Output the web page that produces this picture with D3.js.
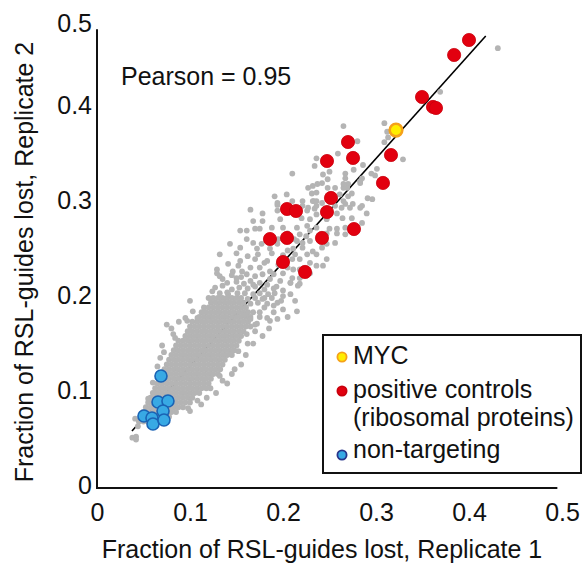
<!DOCTYPE html>
<html><head><meta charset="utf-8">
<script src="https://cdn.jsdelivr.net/npm/d3@7"></script>
<style>body{margin:0;background:#fff}svg{display:block;font-family:"Liberation Sans",Arial,sans-serif}</style>
</head><body><svg id="c" width="583" height="567"></svg>
<script>
// ---- data ----
const xTicks = [0, 0.1, 0.2, 0.3, 0.4, 0.5];
const yTicks = [0, 0.1, 0.2, 0.3, 0.4, 0.5];
const xTitle = "Fraction of RSL-guides lost, Replicate 1";
const yTitle = "Fraction of RSL-guides lost, Replicate 2";
const pearsonLabel = "Pearson = 0.95";
const fitSlope = 1.093, fitIntercept = 0.0189, fitRange = [0.0376, 0.418];

const legendLabels = ["MYC", "positive controls", "(ribosomal proteins)", "non-targeting"];

const myc = [[0.3215, 0.3768]];
const positiveControls = [
 [0.400,0.4716],[0.384,0.4558],[0.3495,0.4116],[0.3613,0.4011],[0.3645,0.400],
 [0.2699,0.3642],[0.2753,0.3474],[0.2473,0.3442],[0.3161,0.3505],[0.3075,0.3211],
 [0.2516,0.3053],[0.2043,0.2937],[0.2140,0.2916],[0.2473,0.2905],[0.1860,0.2621],
 [0.2043,0.2632],[0.2419,0.2632],[0.2763,0.2726],[0.2000,0.2379],[0.2237,0.2274]
];
const nonTargeting = [
 [0.0688,0.1179],[0.0656,0.0905],[0.0763,0.0916],[0.0710,0.0811],
 [0.0505,0.0758],[0.0591,0.0737],[0.0602,0.0674],[0.0720,0.0716]
];

// dense core of all guides: rows of [replicate2, [replicate1 values]]
const coreRows = [
 [0.200,[0.125,0.130,0.135,0.140,0.145,0.150]],
 [0.195,[0.1225,0.1275,0.1325,0.1375,0.1425,0.1475,0.1525,0.1575]],
 [0.190,[0.115,0.120,0.125,0.130,0.135,0.140,0.145,0.150,0.155,0.160]],
 [0.185,[0.1125,0.1175,0.1225,0.1275,0.1325,0.1375,0.1425,0.1475,0.1525,0.1575,0.1625]],
 [0.180,[0.110,0.115,0.120,0.125,0.130,0.135,0.140,0.145,0.150,0.155,0.160,0.165]],
 [0.175,[0.1025,0.1075,0.1125,0.1175,0.1225,0.1275,0.1325,0.1375,0.1425,0.1475,0.1525,0.1575,0.1625]],
 [0.170,[0.100,0.105,0.110,0.115,0.120,0.125,0.130,0.135,0.140,0.145,0.150,0.155,0.160]],
 [0.165,[0.0975,0.1025,0.1075,0.1125,0.1175,0.1225,0.1275,0.1325,0.1375,0.1425,0.1475,0.1525,0.1575]],
 [0.160,[0.095,0.100,0.105,0.110,0.115,0.120,0.125,0.130,0.135,0.140,0.145,0.150,0.155]],
 [0.155,[0.0875,0.0925,0.0975,0.1025,0.1075,0.1125,0.1175,0.1225,0.1275,0.1325,0.1375,0.1425,0.1475,0.1525]],
 [0.150,[0.085,0.090,0.095,0.100,0.105,0.110,0.115,0.120,0.125,0.130,0.135,0.140,0.145,0.150]],
 [0.145,[0.0825,0.0875,0.0925,0.0975,0.1025,0.1075,0.1125,0.1175,0.1225,0.1275,0.1325,0.1375,0.1425,0.1475]],
 [0.140,[0.080,0.085,0.090,0.095,0.100,0.105,0.110,0.115,0.120,0.125,0.130,0.135,0.140,0.145]],
 [0.135,[0.0775,0.0825,0.0875,0.0925,0.0975,0.1025,0.1075,0.1125,0.1175,0.1225,0.1275,0.1325,0.1375]],
 [0.130,[0.075,0.080,0.085,0.090,0.095,0.100,0.105,0.110,0.115,0.120,0.125,0.130,0.135]],
 [0.125,[0.0725,0.0775,0.0825,0.0875,0.0925,0.0975,0.1025,0.1075,0.1125,0.1175,0.1225,0.1275,0.1325]],
 [0.120,[0.070,0.075,0.080,0.085,0.090,0.095,0.100,0.105,0.110,0.115,0.120,0.125,0.130]],
 [0.115,[0.0675,0.0725,0.0775,0.0825,0.0875,0.0925,0.0975,0.1025,0.1075,0.1125,0.1175,0.1225]],
 [0.110,[0.065,0.070,0.075,0.080,0.085,0.090,0.095,0.100,0.105,0.110,0.115,0.120]],
 [0.105,[0.0625,0.0675,0.0725,0.0775,0.0825,0.0875,0.0925,0.0975,0.1025,0.1075,0.1125,0.1175]],
 [0.100,[0.060,0.065,0.070,0.075,0.080,0.085,0.090,0.095,0.100,0.105,0.110]],
 [0.095,[0.0575,0.0625,0.0675,0.0725,0.0775,0.0825,0.0875,0.0925,0.0975,0.1025]],
 [0.090,[0.055,0.060,0.065,0.070,0.075,0.080,0.085,0.090,0.095,0.100]],
 [0.085,[0.0525,0.0575,0.0625,0.0675,0.0725,0.0775,0.0825,0.0875,0.0925]],
 [0.080,[0.050,0.055,0.060,0.065,0.070,0.075,0.080,0.085]],
 [0.075,[0.0475,0.0525,0.0575,0.0625,0.0675,0.0725,0.0775]],
 [0.070,[0.045,0.050,0.055,0.060,0.065]]
];

// scattered guides outside the core: [replicate1, replicate2]
const scatterGuides = [
 [0.431,0.463],[0.369,0.417],[0.367,0.403],[0.309,0.384],[0.312,0.375],[0.313,0.369],[0.309,0.364],
 [0.265,0.381],[0.280,0.365],[0.259,0.352],[0.236,0.347],[0.234,0.339],[0.250,0.333],[0.248,0.325],
 [0.243,0.330],[0.210,0.331],[0.267,0.331],[0.267,0.326],[0.270,0.320],[0.265,0.316],[0.283,0.323],
 [0.295,0.331],[0.301,0.336],[0.299,0.329],[0.329,0.346],[0.256,0.316],[0.237,0.320],[0.232,0.318],
 [0.231,0.310],[0.233,0.302],[0.242,0.300],[0.191,0.307],[0.204,0.309],[0.194,0.298],[0.210,0.302],
 [0.221,0.297],[0.261,0.309],[0.270,0.307],[0.275,0.299],[0.267,0.299],[0.272,0.295],[0.296,0.304],
 [0.290,0.289],[0.178,0.289],[0.194,0.292],[0.226,0.292],[0.234,0.294],[0.263,0.295],[0.283,0.295],
 [0.291,0.305],[0.285,0.326],[0.283,0.321],[0.286,0.340],[0.276,0.335],[0.265,0.320],[0.242,0.321],
 [0.227,0.316],[0.248,0.316],[0.269,0.316],[0.236,0.311],[0.274,0.310],[0.232,0.302],[0.265,0.302],
 [0.221,0.302],[0.236,0.302],[0.194,0.300],[0.165,0.293],[0.227,0.295],[0.236,0.297],[0.256,0.297],
 [0.285,0.297],[0.236,0.288],[0.258,0.289],[0.264,0.284],[0.247,0.283],[0.229,0.283],[0.220,0.284],
 [0.168,0.281],[0.178,0.281],[0.197,0.283],[0.274,0.284],[0.285,0.279],[0.170,0.273],[0.175,0.273],
 [0.188,0.274],[0.200,0.274],[0.215,0.274],[0.226,0.276],[0.236,0.274],[0.250,0.273],[0.258,0.273],
 [0.267,0.274],[0.154,0.271],[0.161,0.271],[0.218,0.267],[0.229,0.271],[0.247,0.268],[0.258,0.268],
 [0.267,0.267],[0.143,0.257],[0.161,0.262],[0.168,0.258],[0.177,0.257],[0.194,0.257],[0.215,0.260],
 [0.221,0.258],[0.229,0.260],[0.247,0.257],[0.256,0.258],[0.154,0.253],[0.172,0.252],[0.186,0.252],
 [0.211,0.252],[0.221,0.253],[0.232,0.249],[0.242,0.253],[0.132,0.246],[0.150,0.247],[0.162,0.244],
 [0.173,0.246],[0.188,0.247],[0.213,0.246],[0.226,0.246],[0.236,0.246],[0.247,0.241],[0.154,0.239],
 [0.170,0.241],[0.183,0.239],[0.210,0.241],[0.218,0.241],[0.229,0.237],[0.236,0.234],[0.243,0.234],
 [0.129,0.230],[0.141,0.236],[0.152,0.234],[0.165,0.232],[0.175,0.232],[0.186,0.228],[0.211,0.230],
 [0.218,0.230],[0.229,0.226],[0.161,0.225],[0.170,0.223],[0.178,0.225],[0.210,0.221],[0.218,0.221],
 [0.135,0.220],[0.150,0.221],[0.165,0.218],[0.175,0.216],[0.186,0.220],[0.197,0.218],[0.208,0.216],
 [0.218,0.215],[0.129,0.226],[0.132,0.223],[0.146,0.228],[0.156,0.228],
 [0.135,0.213],[0.127,0.211],[0.124,0.207],[0.132,0.205],[0.141,0.204],[0.151,0.205],[0.159,0.205],
 [0.168,0.204],[0.175,0.205],[0.184,0.204],[0.191,0.205],[0.200,0.202],[0.208,0.204],[0.216,0.213],
 [0.208,0.216],[0.194,0.195],[0.183,0.194],[0.173,0.195],[0.165,0.194],[0.103,0.186],[0.100,0.197],
 [0.108,0.179],[0.097,0.176],[0.095,0.179],[0.183,0.179],[0.186,0.176],[0.194,0.178],[0.172,0.173],
 [0.215,0.186],[0.213,0.197],
 [0.161,0.162],[0.162,0.152],[0.152,0.144],[0.143,0.141],[0.135,0.113],[0.132,0.118],[0.122,0.105],
 [0.108,0.092],[0.098,0.084],[0.100,0.081],[0.082,0.162],[0.084,0.158],[0.068,0.137],[0.065,0.128],
 [0.060,0.111],[0.055,0.094],[0.041,0.073],[0.044,0.065],[0.038,0.053],[0.042,0.054],[0.042,0.051],
 [0.075,0.172],[0.080,0.168],[0.088,0.175],[0.070,0.150],[0.072,0.143],
 [0.170,0.165],[0.178,0.160],[0.168,0.152],[0.185,0.168],[0.175,0.185],[0.180,0.190],[0.190,0.185],
 [0.200,0.188],[0.205,0.180],[0.165,0.178],[0.170,0.172],[0.160,0.140],[0.155,0.130],[0.148,0.125],
 [0.145,0.120],[0.140,0.110],[0.128,0.100],[0.118,0.095],[0.112,0.088],
 [0.120,0.200],[0.140,0.206],[0.155,0.200],[0.162,0.199],[0.170,0.200],[0.178,0.199],[0.188,0.200],
 [0.198,0.197],[0.145,0.209],[0.153,0.211],[0.162,0.210],[0.170,0.212],[0.180,0.209],[0.190,0.210],
 [0.200,0.208],[0.140,0.216],[0.150,0.217],[0.158,0.215],[0.168,0.214],[0.183,0.214],[0.193,0.212],
 [0.145,0.224],[0.155,0.222],[0.190,0.225],[0.200,0.226],[0.205,0.232],[0.195,0.235],[0.180,0.237],
 [0.200,0.245],[0.205,0.250],[0.195,0.262],[0.205,0.268],[0.212,0.262],[0.225,0.265],
 [0.160,0.190],[0.168,0.185],[0.175,0.180],[0.180,0.200],[0.190,0.192],[0.158,0.182],[0.165,0.170]
];

// ---- drawing ----
const svg = d3.select("#c");
const x = d3.scaleLinear().domain([0, 0.5]).range([97, 562]);
const y = d3.scaleLinear().domain([0, 0.5]).range([488, 13]);
const FONT = '"Liberation Sans",Arial,sans-serif';

const grayPts = coreRows.flatMap(([yy, xs]) => xs.map(xx => [xx, yy])).concat(scatterGuides);

// fit line (drawn under the points)
svg.append("line")
  .attr("x1", x(fitRange[0])).attr("y1", y(fitIntercept + fitSlope * fitRange[0]))
  .attr("x2", x(fitRange[1])).attr("y2", y(fitIntercept + fitSlope * fitRange[1]))
  .attr("stroke", "#000").attr("stroke-width", 1.6);

svg.append("g").selectAll("circle").data(grayPts).join("circle")
  .attr("cx", d => x(d[0])).attr("cy", d => y(d[1])).attr("r", 2.9).attr("fill", "#b4b4b4");

svg.append("g").selectAll("circle").data(positiveControls).join("circle")
  .attr("cx", d => x(d[0])).attr("cy", d => y(d[1])).attr("r", 6.6)
  .attr("fill", "#e2000f").attr("stroke", "#c9000c").attr("stroke-width", 0.8);

svg.append("g").selectAll("circle").data(nonTargeting).join("circle")
  .attr("cx", d => x(d[0])).attr("cy", d => y(d[1])).attr("r", 6)
  .attr("fill", "#38a9e4").attr("stroke", "#1a63b4").attr("stroke-width", 1.6);

svg.append("g").selectAll("circle").data(myc).join("circle")
  .attr("cx", d => x(d[0])).attr("cy", d => y(d[1])).attr("r", 6.3)
  .attr("fill", "#ffee00").attr("stroke", "#f5a11a").attr("stroke-width", 2.6);

// axes
const fs = 25;
const xg = svg.append("g").attr("transform", "translate(0,488)")
  .call(d3.axisBottom(x).tickValues(xTicks).tickFormat(d => String(d)).tickSize(0).tickPadding(15));
const yg = svg.append("g").attr("transform", "translate(97,0)")
  .call(d3.axisLeft(y).tickValues(yTicks).tickFormat(d => String(d)).tickSize(0).tickPadding(5));
[xg, yg].forEach(g => {
  g.select(".domain").remove();
  g.selectAll("text").attr("font-size", fs).attr("font-family", FONT).attr("fill", "#111");
});
yg.selectAll(".tick").filter(d => d === 0.5).attr("transform", "translate(0,27)");
yg.selectAll("text").attr("dy", "0.2em");

svg.append("line").attr("x1", 97).attr("x2", 97).attr("y1", y(0.483)).attr("y2", 489)
  .attr("stroke", "#111").attr("stroke-width", 2);
svg.append("line").attr("x1", 96).attr("x2", x(0.495)).attr("y1", 488).attr("y2", 488)
  .attr("stroke", "#111").attr("stroke-width", 2);

svg.append("text").attr("x", 322).attr("y", 558).attr("text-anchor", "middle")
  .attr("font-size", fs).attr("font-family", FONT).attr("fill", "#111").text(xTitle);
svg.append("text").attr("transform", "translate(33,262) rotate(-90)").attr("text-anchor", "middle")
  .attr("font-size", fs).attr("font-family", FONT).attr("fill", "#111").text(yTitle);
svg.append("text").attr("x", 121).attr("y", 85).attr("font-size", fs).attr("font-family", FONT)
  .attr("fill", "#111").text(pearsonLabel);

// legend
const lg = svg.append("g");
lg.append("rect").attr("x", 323).attr("y", 335).attr("width", 258).attr("height", 138)
  .attr("fill", "#fff").attr("stroke", "#111").attr("stroke-width", 2);
const legendMarkers = [
  {cy: 357, fill: "#ffee00", stroke: "#f5a11a"},
  {cy: 391, fill: "#e2000f", stroke: "#c9000c"},
  {cy: 455, fill: "#38a9e4", stroke: "#27348b"}
];
lg.selectAll("circle").data(legendMarkers).join("circle")
  .attr("cx", 342).attr("cy", d => d.cy).attr("r", 4.6)
  .attr("fill", d => d.fill).attr("stroke", d => d.stroke).attr("stroke-width", 1.8);
const legendY = [364, 398, 426, 458];
lg.selectAll("text").data(legendLabels).join("text")
  .attr("x", 353).attr("y", (d, i) => legendY[i]).attr("font-size", fs).attr("font-family", FONT)
  .attr("fill", "#111").text(d => d);
</script></body></html>
